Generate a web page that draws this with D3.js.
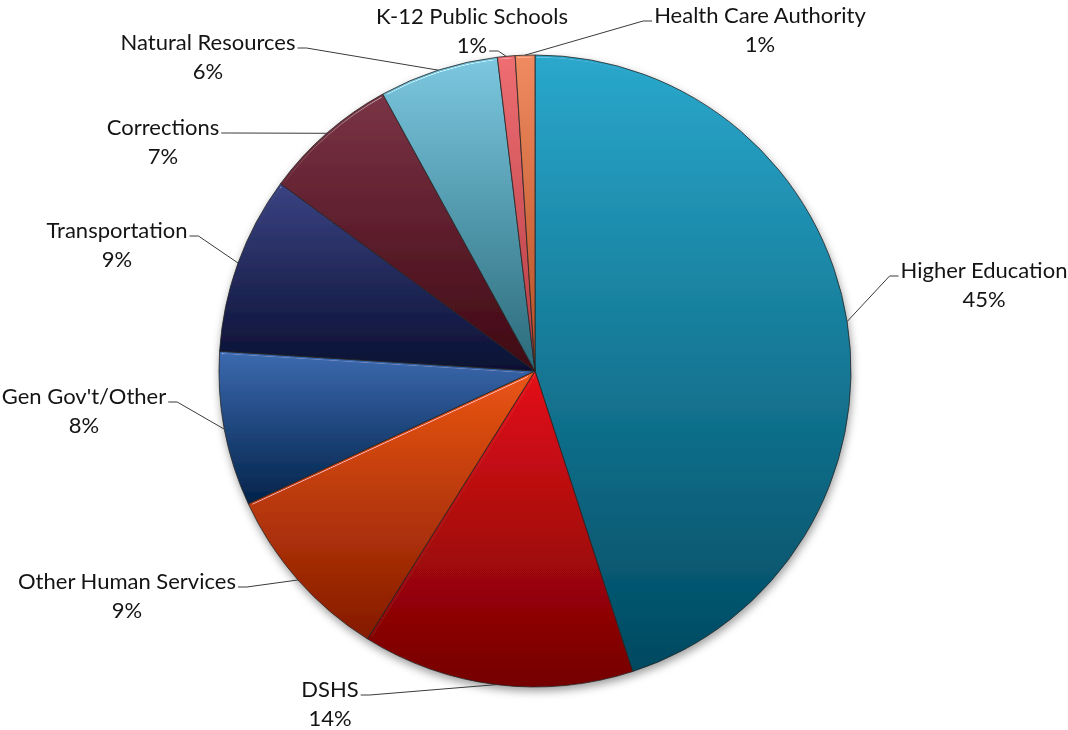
<!DOCTYPE html>
<html>
<head>
<meta charset="utf-8">
<script src="https://cdn.jsdelivr.net/npm/d3@7"></script>
<style>
  html, body { margin: 0; padding: 0; background: #ffffff; }
  svg { display: block; }
  text { font-family: Lato, "Open Sans", "Liberation Sans", sans-serif; fill: #141414; }
</style>
</head>
<body>
<svg id="chart" width="1068" height="730"></svg>
<script>
// Share of the total by agency group, clockwise from 12 o'clock
const categories = [
  "Higher Education", "DSHS", "Other Human Services", "Gen Gov't/Other",
  "Transportation", "Corrections", "Natural Resources", "K-12 Public Schools",
  "Health Care Authority"
];
const values = [45.0, 13.9, 9.2, 7.9, 9.1, 6.9, 6.1, 0.9, 1.0];

// Fill gradient per slice: top colour, bottom colour
const topColors = ["#2aa8cc", "#e4121a", "#ec5614", "#3c6ab0", "#3a4282", "#7b3446", "#7cc8e0", "#ee6e72", "#f08a60"];
const bottomColors = ["#004960", "#740000", "#841a00", "#02234a", "#0a1032", "#3e0812", "#2a6a7a", "#b43c44", "#b44e24"];

// Label placement: centre x and centre y of the first text line, and which line carries the leader
const labelLayout = [
  { x: 984, y: 270, lead: 0 },
  { x: 330, y: 689, lead: 0 },
  { x: 127, y: 581, lead: 0 },
  { x: 84,  y: 396, lead: 0 },
  { x: 117, y: 230, lead: 0 },
  { x: 163, y: 127, lead: 0 },
  { x: 208, y: 42,  lead: 0 },
  { x: 472, y: 16,  lead: 1 },
  { x: 760, y: 15,  lead: 0 }
];

const cx = 535, cy = 371, radius = 316;
const lineGap = 29;
const fontSize = 22;

const svg = d3.select("#chart");
const defs = svg.append("defs");

// soft shadow under the whole pie
const shadow = defs.append("filter").attr("id", "pieShadow")
  .attr("x", "-10%").attr("y", "-10%").attr("width", "120%").attr("height", "125%");
shadow.append("feDropShadow").attr("dx", 1).attr("dy", 4).attr("stdDeviation", 4)
  .attr("flood-color", "#000").attr("flood-opacity", 0.38);

// narrow bevel highlight along each slice edge
const bevel = defs.append("filter").attr("id", "bevel")
  .attr("x", "-5%").attr("y", "-5%").attr("width", "110%").attr("height", "110%");
bevel.append("feGaussianBlur").attr("in", "SourceAlpha").attr("stdDeviation", 1.5).attr("result", "blur");
const spec = bevel.append("feSpecularLighting").attr("in", "blur")
  .attr("surfaceScale", 3).attr("specularConstant", 0.9).attr("specularExponent", 110)
  .attr("lighting-color", "#ffffff").attr("result", "spec");
spec.append("feDistantLight").attr("azimuth", 250).attr("elevation", 40);
bevel.append("feComposite").attr("in", "spec").attr("in2", "SourceAlpha").attr("operator", "in").attr("result", "specIn");
bevel.append("feComposite").attr("in", "SourceGraphic").attr("in2", "specIn")
  .attr("operator", "arithmetic").attr("k1", 0).attr("k2", 1).attr("k3", 0.5).attr("k4", 0);

categories.forEach((c, i) => {
  const g = defs.append("linearGradient").attr("id", "grad" + i)
    .attr("x1", 0).attr("y1", 0).attr("x2", 0).attr("y2", 1);
  g.append("stop").attr("offset", "0%").attr("stop-color", topColors[i]);
  g.append("stop").attr("offset", "100%").attr("stop-color", bottomColors[i]);
});

const data = categories.map((name, i) => ({ name, value: values[i], i }));
const total = d3.sum(values);
const pct = d3.format(".0%");

const pie = d3.pie().sort(null).value(d => d.value);
const arcs = pie(data);
const arc = d3.arc().innerRadius(0).outerRadius(radius);

const pieG = svg.append("g")
  .attr("transform", `translate(${cx},${cy})`)
  .attr("filter", "url(#pieShadow)");

pieG.selectAll("path.slice")
  .data(arcs)
  .join("path")
  .attr("class", "slice")
  .attr("d", arc)
  .attr("fill", d => `url(#grad${d.data.i})`)
  .attr("filter", "url(#bevel)")
  .attr("stroke", "#262626")
  .attr("stroke-width", 0.8)
  .attr("stroke-linejoin", "round");

// labels and leader lines
const labelG = svg.append("g");
const leaderG = svg.append("g");

arcs.forEach(d => {
  const L = labelLayout[d.data.i];
  const t1 = labelG.append("text")
    .attr("x", L.x).attr("y", L.y).attr("dy", "0.35em")
    .attr("text-anchor", "middle").attr("font-size", fontSize)
    .text(d.data.name);
  const t2 = labelG.append("text")
    .attr("x", L.x).attr("y", L.y + lineGap).attr("dy", "0.35em")
    .attr("text-anchor", "middle").attr("font-size", fontSize)
    .text(pct(d.data.value / total));

  // point on the rim at the slice's middle angle
  const mid = (d.startAngle + d.endAngle) / 2;
  const ex = cx + radius * Math.sin(mid);
  const ey = cy - radius * Math.cos(mid);

  const lineNode = (L.lead === 0 ? t1 : t2).node();
  const bb = lineNode.getBBox();
  const ly = (L.lead === 0 ? L.y : L.y + lineGap) + 6;
  const onLeft = bb.x + bb.width / 2 < ex;
  const sx = onLeft ? bb.x + bb.width + 2 : bb.x - 2;
  const elbow = onLeft ? sx + 9 : sx - 9;

  leaderG.append("path")
    .attr("d", d3.line()([[sx, ly], [elbow, ly], [ex, ey]]))
    .attr("fill", "none")
    .attr("stroke", "#3a3a3a")
    .attr("stroke-width", 1);
});
</script>
</body>
</html>
